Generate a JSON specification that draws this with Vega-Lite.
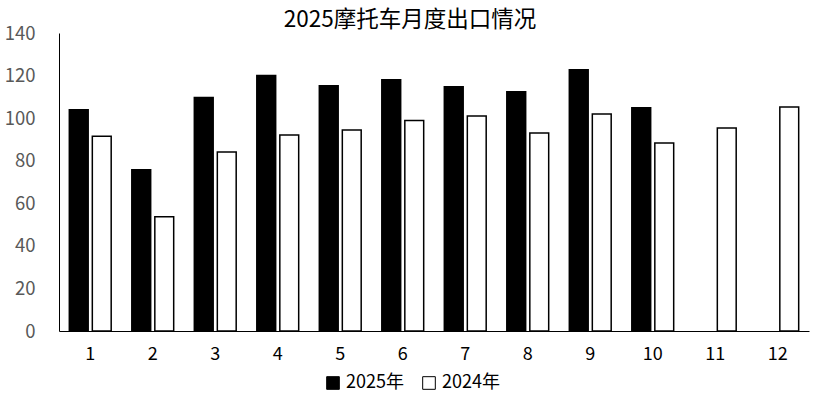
{
  "$schema": "https://vega.github.io/schema/vega-lite/v6.json",
  "width": 750,
  "height": 298,
  "autosize": {"type": "none"},
  "padding": {"left": 59, "top": 33, "right": 11, "bottom": 71},
  "background": "white",
  "config": {
    "view": {"stroke": null},
    "font": "Noto Sans CJK SC"
  },
  "title": {
    "text": "2025摩托车月度出口情况",
    "fontSize": 22.5,
    "fontWeight": "normal",
    "color": "#000000",
    "anchor": "middle",
    "dx": -24,
    "offset": -7
  },
  "data": {
    "values": [
      {"month": "1", "year": "2025年", "value": 104},
      {"month": "1", "year": "2024年", "value": 91.5},
      {"month": "2", "year": "2025年", "value": 75.8},
      {"month": "2", "year": "2024年", "value": 53.7},
      {"month": "3", "year": "2025年", "value": 109.7},
      {"month": "3", "year": "2024年", "value": 84.1},
      {"month": "4", "year": "2025年", "value": 120},
      {"month": "4", "year": "2024年", "value": 92.1},
      {"month": "5", "year": "2025年", "value": 115.2},
      {"month": "5", "year": "2024年", "value": 94.4},
      {"month": "6", "year": "2025年", "value": 118},
      {"month": "6", "year": "2024年", "value": 98.9},
      {"month": "7", "year": "2025年", "value": 114.7},
      {"month": "7", "year": "2024年", "value": 101},
      {"month": "8", "year": "2025年", "value": 112.4},
      {"month": "8", "year": "2024年", "value": 93},
      {"month": "9", "year": "2025年", "value": 122.7},
      {"month": "9", "year": "2024年", "value": 101.9},
      {"month": "10", "year": "2025年", "value": 104.9},
      {"month": "10", "year": "2024年", "value": 88.3},
      {"month": "11", "year": "2024年", "value": 95.4},
      {"month": "12", "year": "2024年", "value": 105.2}
    ]
  },
  "mark": {"type": "bar", "stroke": "#000000", "strokeWidth": 1.5},
  "encoding": {
    "x": {
      "field": "month",
      "type": "nominal",
      "sort": ["1","2","3","4","5","6","7","8","9","10","11","12"],
      "scale": {"paddingInner": 0.33, "paddingOuter": 0.165},
      "axis": {
        "title": null,
        "labelAngle": 0,
        "ticks": false,
        "tickSize": 0,
        "domainColor": "#000000",
        "domainWidth": 1,
        "labelFontSize": 18,
        "labelColor": "#000000",
        "labelPadding": 14,
        "grid": false
      }
    },
    "xOffset": {
      "field": "year",
      "type": "nominal",
      "sort": ["2025年", "2024年"],
      "scale": {"paddingInner": 0.18, "paddingOuter": 0}
    },
    "y": {
      "field": "value",
      "type": "quantitative",
      "scale": {"domain": [0, 140], "nice": false},
      "axis": {
        "title": null,
        "values": [0, 20, 40, 60, 80, 100, 120, 140],
        "ticks": false,
        "tickSize": 0,
        "grid": false,
        "domainColor": "#000000",
        "domainWidth": 1,
        "labelFontSize": 18.5,
        "labelColor": "#595959",
        "labelPadding": 24
      }
    },
    "fill": {
      "field": "year",
      "type": "nominal",
      "sort": ["2025年", "2024年"],
      "scale": {"domain": ["2025年", "2024年"], "range": ["#000000", "#ffffff"]},
      "legend": {
        "title": null,
        "orient": "none",
        "direction": "horizontal",
        "legendX": 265,
        "legendY": 341,
        "symbolType": "square",
        "symbolSize": 160,
        "symbolStrokeColor": "#000000",
        "symbolStrokeWidth": 1,
        "labelFontSize": 18,
        "labelColor": "#000000",
        "columnPadding": 16,
        "labelOffset": 4
      }
    }
  }
}
